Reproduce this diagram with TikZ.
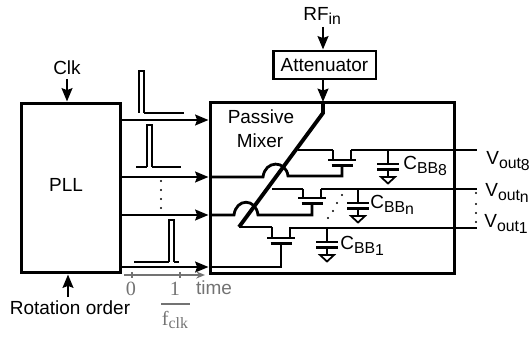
\documentclass[tikz,border=0pt]{standalone}
\usepackage{fontspec}
\setmainfont{Liberation Sans}
\newfontfamily\serifface{Liberation Serif}
\usepackage{tikz}
\usetikzlibrary{arrows.meta}
\newcommand{\lowtxt}[1]{\raisebox{-0.35ex}{\fontsize{9}{10}\selectfont #1}}
\newcommand{\lowidx}[1]{\raisebox{-0.2ex}{#1}}
\begin{document}
\begin{tikzpicture}[x=0.02cm,y=-0.02cm,font=\fontsize{10.8}{12}\selectfont]
    \newcommand{\fet}[3]{
      \draw[wire] (#1-9,#3)--(#1-9,#2);
      \draw[wire] (#1+9,#3)--(#1+9,#2);
      \draw[wire] (#1-14,#2)--(#1+14,#2);
      \draw[wire] (#1-10.5,#2+5.5)--(#1+10.5,#2+5.5);
    }
    \newcommand{\capgnd}[2]{
      \draw[wire] (#1,#2)--(#1,#2+14);
      \draw[wire] (#1-11,#2+14)--(#1+11,#2+14);
      \draw[wire] (#1-11,#2+19.5)--(#1+11,#2+19.5);
      \draw[wire] (#1,#2+19.5)--(#1,#2+27);
      \draw[outline,line join=miter] (#1-7,#2+27)--(#1+7,#2+27)--(#1,#2+33.5)--cycle;
    }
    \newcommand{\pulse}[5]{
      \draw[pulseline] (#1,#4)--(#2,#4);
      \draw[pulseline] (#2,#4)--(#2,#5)--(#2+5,#5)--(#2+5,#4);
      \draw[pulseline] (#2+5,#4)--(#3,#4);
    }
    \tikzstyle{block}=[draw=black,line width=1.7pt,inner sep=0pt,anchor=center]
    \tikzstyle{wire}=[line width=1.3pt,draw=black]
    \tikzstyle{dwire}=[line width=1.6pt,-{Stealth[length=7.5pt,width=6pt,inset=1pt]},draw=black]
    \tikzstyle{bus}=[line width=1.6pt,draw=black]
    \tikzstyle{outline}=[line width=1pt,draw=black]
    \tikzstyle{pulseline}=[line width=0.9pt,draw=black]
    \tikzstyle{lbl}=[inner sep=0pt,anchor=base west]
    \tikzstyle{axis}=[line width=0.8pt,draw=black!55]
    \tikzstyle{axlbl}=[inner sep=0pt,text=black!55]

    \useasboundingbox (0,0) rectangle (530,337);

    \node[block,minimum width=2cm,minimum height=3.4cm] (pll) at (71,188) {};
    \node[block,minimum width=4.9cm,minimum height=3.44cm] (mixer) at (332.5,188) {};
    \node[block,minimum width=2.06cm,minimum height=0.56cm] (atten) at (324.5,65) {Attenuator};
    \node[inner sep=0pt] (plltxt) at (66,185) {PLL};
    \node[inner sep=0pt] (passive) at (261,117) {Passive};
    \node[inner sep=0pt] (mixertxt) at (260,141) {Mixer};

    \node[lbl] (rfin) at (303,21) {RF\lowtxt{in}};
    \node[inner sep=0pt] (clk) at (67,68) {Clk};
    \node[inner sep=0pt] (rotation) at (70,308) {Rotation order};

    \coordinate (rftop) at (323,27);
    \coordinate (clktop) at (67,79);
    \coordinate (rottop) at (68,297);
    \draw[dwire] (rftop)--(rftop |- atten.north);
    \draw[dwire] (clktop)--(clktop |- pll.north);
    \draw[dwire] (rottop)--(rottop |- pll.south);
    \draw[dwire] (323,79)--(323,102);

    % clock lines
    \coordinate (ph1) at (121,120);
    \coordinate (ph2) at (121,177);
    \coordinate (ph3) at (121,215);
    \coordinate (ph4) at (121,267);
    \draw[dwire] (ph1)--(ph1 -| mixer.west);
    \draw[dwire] (ph2)--(ph2 -| mixer.west);
    \draw[dwire] (ph3)--(ph3 -| mixer.west);
    \draw[dwire] (ph4)--(ph4 -| mixer.west);

    \pulse{139}{139}{184}{113}{71}
    \pulse{136}{147}{181}{167}{125}
    \pulse{134}{169}{179}{262}{220}
    \foreach \y in {181,190,199,208} \fill (161,\y) circle (0.7pt);

    % time axis
    \coordinate (t0) at (124,275);
    \coordinate (t1) at (205,275);
    \draw[axis,-{Stealth[length=5pt,width=4pt]}] (t0)--(t1);
    \draw[axis] (132,272)--(132,278);
    \draw[axis] (180,272)--(180,278);
    \node[axlbl,font=\fontsize{11.5}{12}\selectfont\serifface] (zero) at (131,289) {0};
    \node[axlbl,font=\fontsize{11.5}{12}\selectfont\serifface] (one) at (175,289) {1};
    \node[axlbl] (time) at (214,288) {time};
    \coordinate (fracl) at (161,304);
    \coordinate (fracr) at (190,304);
    \draw[axis] (fracl)--(fracr);
    \node[axlbl,font=\fontsize{11.5}{12}\selectfont\serifface] (fclk) at (175,320) {f\lowtxt{clk}};

    % rotating switches
    \draw[line width=2.2pt,draw=black] (323,102)--(323,113)--(239,227);
    \draw[bus] (210,177)--(263,177) .. controls (265,160) and (286,160) .. (288,176)--(342,176)--(342,165.5);
    \draw[bus] (210,215)--(234,215) .. controls (236,198) and (256,198) .. (258,215)--(312,215)--(312,204);
    \draw[bus] (210,267)--(281,267)--(281,243.5);
    \draw[wire] (298,150)--(333,150);
    \draw[wire] (272,189)--(303,189);
    \draw[wire] (239,227)--(272,227);
    \fet{342}{160}{150}
    \fet{312}{198}{189}
    \fet{281}{238}{227}
    \draw[outline] (351,150)--(477,150);
    \draw[outline] (321,189)--(477,189);
    \draw[outline] (290,228)--(477,228);

    \capgnd{388}{150}
    \capgnd{358}{189}
    \capgnd{327}{228}

    \node[lbl] (cbb8) at (403,170) {C\lowtxt{BB\lowidx{8}}};
    \node[lbl] (cbbn) at (370,209) {C\lowtxt{BB\lowidx{n}}};
    \node[lbl] (cbb1) at (340,250) {C\lowtxt{BB\lowidx{1}}};
    \node[lbl] (vout8) at (486,165) {V\lowtxt{out\lowidx{8}}};
    \node[lbl] (voutn) at (485,197) {V\lowtxt{out\lowidx{n}}};
    \node[lbl] (vout1) at (484,228) {V\lowtxt{out\lowidx{1}}};

    \foreach \x/\y in {342/195,337/203,333/211,328/218,476/193,476/204,476/213,476/222}
      \fill (\x,\y) circle (0.7pt);
\end{tikzpicture}
\end{document}
